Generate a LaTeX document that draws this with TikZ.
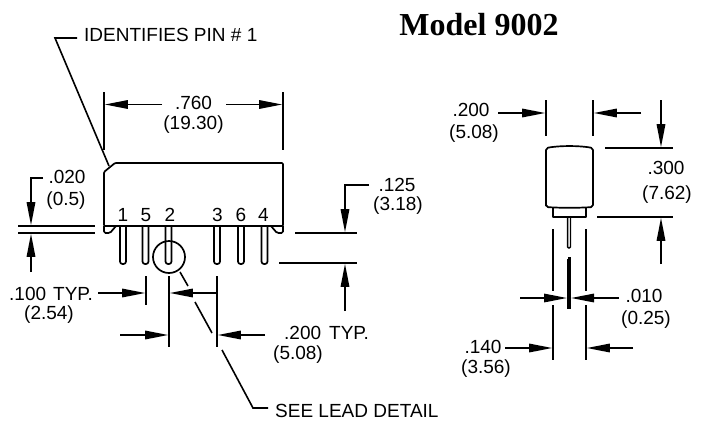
\documentclass[tikz,border=0pt]{standalone}
\usepackage{fontspec}
\setmainfont{Liberation Sans}
\newfontfamily\serifbold{Liberation Serif}[BoldFont={Liberation Serif Bold}]
\usetikzlibrary{arrows.meta}
\tikzset{
  dimline/.style={line width=1.6pt,-{Triangle[length=23pt,width=8.5pt]}},
  plainline/.style={line width=1.6pt},
  outline/.style={line width=1.7pt,line join=round},
  lab/.style={inner sep=0pt,font=\fontsize{19}{19}\selectfont},
}
\begin{document}
\begin{tikzpicture}[x=1pt,y=-1pt]
\path[use as bounding box,fill=white] (0,0) rectangle (704,421);
% titles and labels
\node[inner sep=0pt,font=\serifbold\bfseries\fontsize{32}{32}\selectfont] (title) at (479,25) {Model 9002};
\node[lab,anchor=west] (pinone) at (84,35) {IDENTIFIES PIN \# 1};
\node[lab] (a1) at (193.5,102.5) {.760};
\node[lab] (a2) at (193.5,125) {(19.30)};
\node[lab] (b1) at (67,177) {.020};
\node[lab] (b2) at (66,201) {(0.5)};
\node[lab] (p1) at (123,215) {1};
\node[lab] (p5) at (146,215) {5};
\node[lab] (p2) at (170,215) {2};
\node[lab] (p3) at (217.5,215) {3};
\node[lab] (p6) at (241,215) {6};
\node[lab] (p4) at (263.5,215) {4};
\node[lab,anchor=west] (c1) at (9,293.5) {.100\hspace{7pt}TYP.};
\node[lab] (c2) at (49,315) {(2.54)};
\node[lab,anchor=west] (d1) at (284,333) {.200\hspace{8pt}TYP.};
\node[lab] (d2) at (298,355) {(5.08)};
\node[lab] (e1) at (397,185) {.125};
\node[lab] (e2) at (398,206) {(3.18)};
\node[lab,anchor=west] (see) at (275,411) {SEE LEAD DETAIL};
\node[lab] (f1) at (471,110) {.200};
\node[lab] (f2) at (474,134) {(5.08)};
\node[lab] (g1) at (666,168) {.300};
\node[lab] (g2) at (667,195) {(7.62)};
\node[lab] (h1) at (644,296) {.010};
\node[lab] (h2) at (646,320) {(0.25)};
\node[lab] (i1) at (483,347) {.140};
\node[lab] (i2) at (486,369) {(3.56)};
% left view: body
\draw[outline,rounded corners=1pt] (115,163) -- (283,163) -- (283,226) -- (104,226) -- (104,172) -- cycle;
\draw[outline,rounded corners=1.5pt] (104,226) -- (104,233) -- (110,233) -- (116,226);
\draw[outline,rounded corners=1.5pt] (283,226) -- (283,233) -- (277,233) -- (271,226);
\foreach \px in {123,145.5,168.5,217,241,264.5}{
  \draw[outline,rounded corners=2.5pt] (\px-3,226) -- (\px-3,264) -- (\px+3,264) -- (\px+3,226);
}
\draw[outline] (169,257) circle (16);
% leaders
\draw[plainline] (77,38) -- (55,38) -- (109,166);
\draw[plainline] (180,272) -- (188,286);
\draw[plainline] (195,302) -- (212,333);
\draw[plainline] (222,350) -- (253,408) -- (268,408);
% .760
\draw[plainline] (104,92) -- (104,150);
\draw[plainline] (283,92) -- (283,150);
\draw[dimline] (162,104.5) -- (104.8,104.5);
\draw[dimline] (226,104.5) -- (282.2,104.5);
% .020
\draw[plainline] (18,226) -- (95,226);
\draw[plainline] (18,233) -- (95,233);
\draw[dimline] (43,178) -- (31,178) -- (31,225.2);
\draw[dimline] (31,272) -- (31,233.8);
% .100 / .200 typ
\draw[plainline] (146,276) -- (146,305);
\draw[plainline] (169,276) -- (169,347);
\draw[plainline] (217,276) -- (217,347);
\draw[dimline] (98,293) -- (145.2,293);
\draw[dimline] (217,293) -- (169.8,293);
\draw[dimline] (120,335) -- (168.2,335);
\draw[dimline] (265,335) -- (217.8,335);
% .125
\draw[plainline] (295,233) -- (357,233);
\draw[plainline] (279,263) -- (357,263);
\draw[dimline] (369,185) -- (345,185) -- (345,232.2);
\draw[dimline] (345,311) -- (345,263.8);
% right view: body
\draw[outline,rounded corners=2pt] (546,207) -- (546,148) .. controls (560,145.5) and (579,145.5) .. (593,148) -- (593,207) .. controls (579,208) and (560,208) .. cycle;
\draw[outline] (553,208) -- (553,217) -- (586,217) -- (586,208);
\draw[line width=1.3pt,rounded corners=1pt] (567.6,217) -- (567.6,248) -- (570.4,248) -- (570.4,217);
\draw[line width=3pt] (569,257.4) -- (569,258.6);
\draw[line width=3.6pt] (569,259) -- (569,309);
% right view: dimensions
\draw[plainline] (546,100) -- (546,136);
\draw[plainline] (593,100) -- (593,136);
\draw[dimline] (498,113) -- (545.2,113);
\draw[dimline] (641,113) -- (593.8,113);
\draw[plainline] (605,148) -- (673,148);
\draw[plainline] (597,217) -- (673,217);
\draw[dimline] (661,100) -- (661,147.2);
\draw[dimline] (661,264) -- (661,217.8);
\draw[plainline] (553,229) -- (553,291);
\draw[plainline] (586,229) -- (586,291);
\draw[plainline] (553,305) -- (553,360);
\draw[plainline] (586,305) -- (586,360);
\draw[dimline] (520,298) -- (567,298);
\draw[dimline] (619,298) -- (571,298);
\draw[dimline] (505,348) -- (552.2,348);
\draw[dimline] (633,348) -- (586.8,348);
\end{tikzpicture}
\end{document}
